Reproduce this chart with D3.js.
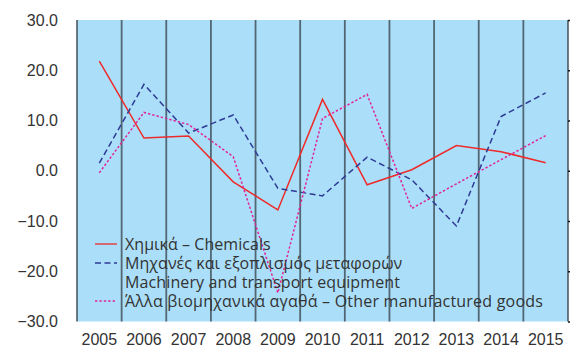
<!DOCTYPE html>
<html>
<head>
<meta charset="utf-8">
<script src="https://cdn.jsdelivr.net/npm/d3@7/dist/d3.min.js"></script>
<style>
  html, body { margin: 0; padding: 0; background: #fff; }
  svg { display: block; font-family: "Open Sans", "DejaVu Sans", sans-serif; }
</style>
</head>
<body>
<svg id="chart" width="570" height="355"></svg>
<script>
// Annual % change by product group
const years = ["2005","2006","2007","2008","2009","2010","2011","2012","2013","2014","2015"];
const chemicals = [21.8, 6.5, 6.9, -2.2, -7.8, 14.2, -2.8, 0.2, 5.0, 3.8, 1.6];
const machinery = [1.5, 17.2, 7.5, 11.1, -3.5, -5.0, 2.7, -1.8, -11.0, 10.8, 15.5];
const otherGoods = [-0.4, 11.6, 9.2, 2.8, -24.3, 10.4, 15.2, -7.5, -2.6, 2.2, 7.0];
const yTicks = [30, 20, 10, 0, -10, -20, -30];

const legendItems = [
  { label: "Χημικά – Chemicals", color: "#ee2a2a", dash: null, values: chemicals, spacing: 0.05 },
  { label: "Μηχανές και εξοπλισμός μεταφορών", color: "#2e3a96", dash: "6,3.5", values: machinery, spacing: 0.05 },
  { label: "Machinery and transport equipment", color: null, dash: null, values: null, spacing: 0.12 },
  { label: "Άλλα βιομηχανικά αγαθά – Other manufactured goods", color: "#e2249a", dash: "2.4,2", values: otherGoods, spacing: 0.22 }
];

const svg = d3.select("#chart");
const plotL = 77, plotR = 568, plotT = 20, plotB = 321.5;
const fontSize = 16;

const x = d3.scaleBand().domain(years).range([plotL, plotR]).padding(0);
const y = d3.scaleLinear().domain([-30, 30]).range([plotB, plotT]);

// plot background
svg.append("rect")
  .attr("x", plotL).attr("y", plotT)
  .attr("width", plotR - plotL).attr("height", plotB - plotT)
  .attr("fill", "#abdff9");

// vertical grid at category boundaries
const bounds = years.map(d => x(d)).concat([plotR]);
svg.append("g").selectAll("line").data(bounds).join("line")
  .attr("x1", d => d).attr("x2", d => d)
  .attr("y1", plotT).attr("y2", plotB)
  .attr("stroke", "#3c4a52").attr("stroke-width", 1.8).attr("opacity", 0.8);

// horizontal grid with outward ticks
const yAxis = d3.axisLeft(y).tickValues(yTicks)
  .tickSize(-(plotR - plotL) - 12).tickPadding(7)
  .tickFormat(d3.format(".1f"));
const gy = svg.append("g").attr("transform", `translate(${plotR},0)`).call(yAxis);
gy.select(".domain").remove();
gy.selectAll(".tick line").attr("stroke", "#151515").attr("stroke-width", 1.5);
gy.selectAll(".tick text")
  .attr("x", -(plotR - plotL) - 19)
  .attr("fill", "#333").attr("font-size", fontSize);

// x labels
const xAxis = d3.axisBottom(x).tickSize(0).tickPadding(12);
const gx = svg.append("g").attr("transform", `translate(0,${plotB})`).call(xAxis);
gx.select(".domain").remove();
gx.selectAll(".tick text").attr("fill", "#333").attr("font-size", fontSize);

// series lines
const line = d3.line()
  .x((d, i) => x(years[i]) + x.bandwidth() / 2)
  .y(d => y(d));

legendItems.filter(s => s.values).forEach(s => {
  svg.append("path")
    .datum(s.values)
    .attr("d", line)
    .attr("fill", "none")
    .attr("stroke", s.color)
    .attr("stroke-width", 1.5)
    .attr("stroke-dasharray", s.dash);
});

// legend (the English subtitle of the second entry sits on its own row)
const lg = svg.append("g").attr("transform", "translate(95,244)");
const rowH = 19;
legendItems.forEach((s, i) => {
  const row = lg.append("g").attr("transform", `translate(0,${i * rowH})`);
  if (s.color) {
    row.append("line")
      .attr("x1", 0).attr("x2", 22).attr("y1", 0).attr("y2", 0)
      .attr("stroke", s.color).attr("stroke-width", 1.3)
      .attr("stroke-dasharray", s.dash);
  }
  row.append("text")
    .attr("x", 30).attr("y", 6)
    .attr("fill", "#333").attr("font-size", fontSize)
    .attr("letter-spacing", s.spacing)
    .text(s.label);
});
</script>
</body>
</html>
